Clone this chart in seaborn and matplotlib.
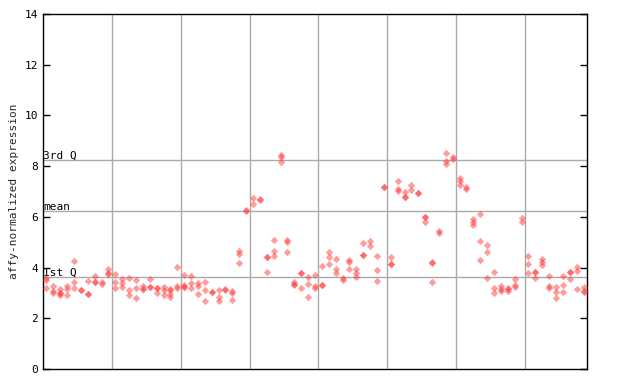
import numpy as np
import pandas as pd
import matplotlib
matplotlib.use('Agg')
import matplotlib.pyplot as plt
import seaborn as sns

# replicate values per sample (79 samples, 8 groups)
expr = [
    [3.58, 3.50, 3.18], [3.27, 3.07, 2.98], [3.14, 3.01, 3.00, 2.93], [3.27, 3.17, 2.93],
    [4.25, 3.45, 3.18], [3.12, 3.10], [3.46, 2.96, 2.95], [3.65, 3.44, 3.42],
    [3.44, 3.35], [3.95, 3.80, 3.73],
    [3.75, 3.43, 3.18], [3.54, 3.40, 3.22], [3.58, 3.12, 2.93], [3.51, 3.18, 2.79],
    [3.28, 3.17, 3.16], [3.54, 3.25, 3.24], [3.19, 3.18, 3.01], [3.22, 3.12, 2.90],
    [3.14, 3.13, 2.96, 2.85], [4.01, 3.27, 3.19],
    [3.70, 3.31, 3.22, 3.22], [3.68, 3.40, 3.18], [3.38, 3.27, 2.96], [3.44, 3.10, 2.68],
    [3.04, 3.03], [3.10, 2.85, 2.67], [3.14, 3.13], [3.06, 2.98, 2.71],
    [4.65, 4.53, 4.17], [6.27, 6.25],
    [6.73, 6.52], [6.72, 6.68], [4.43, 4.42, 3.81], [5.07, 4.64, 4.46],
    [8.43, 8.35, 8.15], [5.09, 5.00, 4.60], [3.42, 3.35, 3.30], [3.80, 3.79, 3.18],
    [3.62, 3.34, 2.83], [3.69, 3.27, 3.18],
    [4.05, 3.33, 3.31], [4.63, 4.43, 4.13], [4.34, 3.94, 3.77], [3.60, 3.52],
    [4.28, 4.21, 3.94], [3.94, 3.77, 3.63], [4.95, 4.51, 4.50], [5.06, 4.84],
    [4.44, 3.90, 3.47], [7.18, 7.16],
    [4.42, 4.15, 4.14], [7.40, 7.09, 7.01], [6.97, 6.79, 6.78], [7.26, 7.04],
    [6.96, 6.95], [6.01, 6.00, 5.81], [4.22, 4.18, 3.45], [5.45, 5.38],
    [8.52, 8.21, 8.08], [8.37, 8.27],
    [7.52, 7.43, 7.25], [7.16, 7.08], [5.90, 5.80, 5.68], [6.11, 5.05, 4.30],
    [4.89, 4.60, 3.59], [3.81, 3.19, 2.98], [3.29, 3.15, 3.06], [3.18, 3.17, 3.09],
    [3.54, 3.31, 3.22], [5.97, 5.78],
    [4.44, 4.16, 3.77], [3.84, 3.83, 3.60], [4.32, 4.22, 4.09], [3.65, 3.27, 3.19],
    [3.22, 3.04, 2.81], [3.65, 3.30, 3.04], [3.84, 3.83, 3.54], [4.02, 3.86, 3.14],
    [3.22, 3.06, 3.05],
]
group_sizes = [10, 10, 10, 10, 10, 10, 10, 9]
stat_names = ['1st Q', 'mean', '3rd Q']
stat_values = [3.63, 6.22, 8.23]
y_ticks = [0, 2, 4, 6, 8, 10, 12, 14]

rows = [(i, v) for i, vals in enumerate(expr) for v in vals]
df = pd.DataFrame(rows, columns=['sample', 'value'])

sns.set_style('white')
plt.rcParams['font.family'] = ['DejaVu Sans Mono']

fig = plt.figure(figsize=(6.4, 3.84), dpi=100)
ax = fig.add_axes([43 / 640, 15 / 384, 544 / 640, 355 / 384])

# group separators and summary lines
bounds = np.cumsum(group_sizes)[:-1] - 0.5
for b in bounds:
    ax.axvline(b, color='#aaaaaa', lw=1, zorder=0)
for name, val in zip(stat_names, stat_values):
    ax.axhline(val, color='#aaaaaa', lw=1, zorder=0)
    ax.text(-0.45, val + 0.05, name, fontsize=8, ha='left', va='baseline', color='black')

sns.scatterplot(data=df, x='sample', y='value', marker='D', s=14, color='#ff3b3b',
                alpha=0.5, linewidth=0, legend=False, ax=ax, zorder=3)

ax.set_xlim(-0.5, len(expr) - 0.5)
ax.set_ylim(0, 14)
ax.set_yticks(y_ticks)
ax.set_yticklabels([str(t) for t in y_ticks], fontsize=8)
ax.set_xticks([])
ax.set_xlabel('')
ax.set_ylabel('affy-normalized expression', fontsize=8)
ax.tick_params(axis='y', direction='in', length=5, width=1, right=True, left=True,
               labelleft=True, labelright=False, colors='black')
for sp in ax.spines.values():
    sp.set_color('black')
    sp.set_linewidth(1)

fig.savefig('out.png', dpi=100)
